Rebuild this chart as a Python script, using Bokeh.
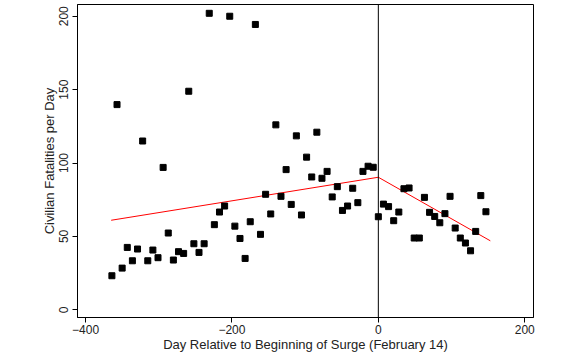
from bokeh.plotting import figure
from bokeh.models import FixedTicker, Span, Range1d
from bokeh.embed import file_html
from bokeh.resources import INLINE

# Data
days = [-364, -357, -350, -343, -336, -329, -322, -315, -308, -301, -294, -287, -280, -273,
        -266, -259, -252, -245, -238, -231, -224, -217, -210, -203, -196, -189, -182, -175,
        -168, -161, -154, -147, -140, -133, -126, -119, -112, -105, -98, -91, -84, -77,
        -70, -63, -56, -49, -42, -35, -28, -21, -14, -7,
        0, 7, 14, 21, 28, 35, 42, 49, 56, 63, 70, 77, 84, 91, 98, 105, 112, 119, 126,
        133, 140, 147]
fatalities = [23.2, 139.8, 28.4, 42.5, 33.4, 41.4, 115, 33.4, 40.7, 35.5, 97, 52.3, 33.9, 39.6,
              38.4, 148.9, 45, 39.1, 45, 202, 58, 66.6, 70.7, 200, 57, 48.6, 35, 60,
              194.4, 51.4, 78.7, 65.3, 126, 77.3, 95.5, 71.8, 118.5, 64.6, 104, 90.5, 121, 89.6,
              94.3, 76.9, 83.9, 67.7, 70.7, 82.8, 73, 94.3, 97.8, 97.1,
              63.4, 72, 70.3, 60.7, 66.6, 82.5, 83, 48.9, 48.9, 76.6, 66.4, 63.6, 59.3, 65.5,
              77.3, 55.7, 48.9, 45.5, 40.2, 53.4, 77.8, 66.8]

fit_pre_x = [-365, 0]
fit_pre_y = [61, 90.3]
fit_post_x = [0, 153]
fit_post_y = [90.3, 47]

surge_day = 0
x_ticks = [-400, -200, 0, 200]
y_ticks = [0, 50, 100, 150, 200]

FONT = "Liberation Sans"

p = figure(width=570, height=355, output_backend="svg", toolbar_location=None,
           x_range=Range1d(-411, 212), y_range=Range1d(-5.25, 208),
           min_border_left=77, min_border_right=37, min_border_top=4, min_border_bottom=38)

p.grid.visible = False
p.outline_line_color = "black"
p.outline_line_width = 1
p.background_fill_color = "white"
p.border_fill_color = "white"

p.line(fit_pre_x, fit_pre_y, line_color="red", line_width=1)
p.line(fit_post_x, fit_post_y, line_color="red", line_width=1)

p.add_layout(Span(location=surge_day, dimension="height", line_color="black", line_width=1))

p.scatter(days, fatalities, marker="square", size=6, fill_color="black", line_color="black")

for ax in (p.xaxis[0], p.yaxis[0]):
    ax.axis_line_color = "black"
    ax.major_tick_line_color = "black"
    ax.major_tick_in = 0
    ax.major_tick_out = 5
    ax.minor_tick_line_color = None
    ax.major_label_text_font = FONT
    ax.major_label_text_font_size = "12px"
    ax.major_label_text_color = "#222222"
    ax.axis_label_text_font = FONT
    ax.axis_label_text_font_size = "13px"
    ax.axis_label_text_font_style = "normal"
    ax.axis_label_text_color = "#222222"

p.xaxis.ticker = FixedTicker(ticks=x_ticks)
p.yaxis.ticker = FixedTicker(ticks=y_ticks)
p.xaxis.axis_label = "Day Relative to Beginning of Surge (February 14)"
p.yaxis.axis_label = "Civilian Fatalities per Day"
p.yaxis.major_label_orientation = "vertical"
p.xaxis.major_label_standoff = 2
p.yaxis.major_label_standoff = 4
p.xaxis.axis_label_standoff = 0
p.yaxis.axis_label_standoff = 0

open("out.html", "w").write(file_html(p, INLINE))
